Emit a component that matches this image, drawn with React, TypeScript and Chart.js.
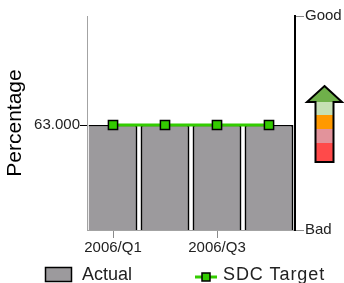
import React, { useEffect, useRef } from 'react';
import { Chart, registerables } from 'chart.js';

Chart.register(...registerables);

const categories = ['2006/Q1', '2006/Q2', '2006/Q3', '2006/Q4'];
const actualValues = [63, 63, 63, 63];
const targetValues = [63, 63, 63, 63];
const yTickValues = [63];
const statusTickValues = [0, 1];
const statusLabels = ['Bad', 'Good'];
const shownCategoryIndexes = [0, 2];

const FONT = '"Liberation Sans", Arial, sans-serif';
const BAR_GRAY = '#9c9a9d';
const TARGET_GREEN = '#33cc00';

const arrowPlugin = {
  id: 'statusArrow',
  afterDraw(chart: any) {
    const { ctx, chartArea } = chart;
    const cx = chartArea.right + 29.5;
    const top = chartArea.top + 70;
    const headBase = top + 16;
    const bottom = top + 76;
    const hw = 17.5;
    const sw = 9;
    ctx.save();
    ctx.beginPath();
    ctx.moveTo(cx, top);
    ctx.lineTo(cx + hw, headBase);
    ctx.lineTo(cx + sw, headBase);
    ctx.lineTo(cx + sw, bottom);
    ctx.lineTo(cx - sw, bottom);
    ctx.lineTo(cx - sw, headBase);
    ctx.lineTo(cx - hw, headBase);
    ctx.closePath();
    ctx.save();
    ctx.clip();
    const bands: [string, number, number][] = [
      ['#6fb04a', top, headBase],
      ['#c6e0b4', headBase, headBase + 13],
      ['#ff9900', headBase + 13, headBase + 27],
      ['#e2939b', headBase + 27, headBase + 41],
      ['#ff4a4a', headBase + 41, bottom],
    ];
    for (const [c, y0, y1] of bands) {
      ctx.fillStyle = c;
      ctx.fillRect(cx - hw - 1, y0, hw * 2 + 2, y1 - y0);
    }
    ctx.restore();
    ctx.lineWidth = 2;
    ctx.strokeStyle = '#000';
    ctx.lineJoin = 'miter';
    ctx.stroke();
    ctx.restore();
  },
};

const legendPlugin = {
  id: 'customLegend',
  afterDraw(chart: any) {
    const { ctx } = chart;
    const ds = chart.data.datasets;
    ctx.save();
    ctx.font = `18px ${FONT}`;
    ctx.textBaseline = 'middle';
    ctx.textAlign = 'left';
    // Actual
    ctx.fillStyle = ds[0].backgroundColor;
    ctx.fillRect(45.5, 267.5, 26, 14);
    ctx.lineWidth = 1.5;
    ctx.strokeStyle = '#000';
    ctx.strokeRect(45.5, 267.5, 26, 14);
    ctx.fillStyle = '#222';
    ctx.fillText(ds[0].label, 82, 275);
    // SDC Target
    ctx.strokeStyle = ds[1].borderColor;
    ctx.lineWidth = 3;
    ctx.beginPath();
    ctx.moveTo(195, 277);
    ctx.lineTo(217, 277);
    ctx.stroke();
    ctx.fillStyle = ds[1].pointBackgroundColor;
    ctx.fillRect(202, 273, 8, 8);
    ctx.lineWidth = 1.5;
    ctx.strokeStyle = '#000';
    ctx.strokeRect(202, 273, 8, 8);
    ctx.fillStyle = '#222';
    try {
      (ctx as any).letterSpacing = '0.9px';
    } catch (e) {
      /* ignore */
    }
    ctx.fillText(ds[1].label, 223, 275);
    ctx.restore();
  },
};

export default function App() {
  const canvasRef = useRef<HTMLCanvasElement | null>(null);

  useEffect(() => {
    if (!canvasRef.current) return;
    Chart.defaults.font.family = FONT;
    const chart = new Chart(canvasRef.current, {
      type: 'bar',
      data: {
        labels: categories,
        datasets: [
          {
            type: 'bar',
            label: 'Actual',
            data: actualValues,
            backgroundColor: BAR_GRAY,
            borderColor: '#000',
            borderWidth: (c: any) => ({
              top: 1.5,
              left: c.dataIndex === 0 ? 0 : 2,
              right: 2,
              bottom: 0,
            }),
            borderSkipped: 'start',
            barPercentage: 0.94,
            categoryPercentage: 1,
            order: 2,
            yAxisID: 'y',
          } as any,
          {
            type: 'line',
            label: 'SDC Target',
            data: targetValues,
            borderColor: TARGET_GREEN,
            borderWidth: 3,
            pointStyle: 'rect',
            pointRadius: 6.5,
            pointBackgroundColor: TARGET_GREEN,
            pointBorderColor: '#000',
            pointBorderWidth: 1.5,
            fill: false,
            order: 1,
            yAxisID: 'y',
          } as any,
        ],
      },
      options: {
        animation: false,
        responsive: true,
        maintainAspectRatio: false,
        layout: { padding: { top: 16, left: 0, right: 0, bottom: 0 } },
        plugins: {
          legend: { display: false },
          tooltip: { enabled: false },
        },
        scales: {
          x: {
            type: 'category',
            offset: true,
            grid: {
              offset: false,
              drawOnChartArea: false,
              tickLength: 8,
              tickColor: (c: any) =>
                shownCategoryIndexes.includes(c.index) ? '#8a8a8a' : 'rgba(0,0,0,0)',
            },
            border: { color: '#a3a3a3', width: 1 },
            ticks: {
              autoSkip: false,
              maxRotation: 0,
              padding: 1,
              color: '#222',
              font: { size: 15 },
              callback: (_v: any, i: number) =>
                shownCategoryIndexes.includes(i) ? categories[i] : '',
            },
            afterFit: (s: any) => {
              s.height = 53;
            },
          },
          y: {
            position: 'left',
            min: 0,
            max: 128.4,
            afterBuildTicks: (s: any) => {
              s.ticks = yTickValues.map((v) => ({ value: v }));
            },
            grid: {
              drawOnChartArea: false,
              tickLength: 7,
              tickColor: '#000',
            },
            border: { color: '#a3a3a3', width: 1 },
            ticks: {
              padding: 0,
              color: '#222',
              font: { size: 15 },
              callback: (v: any) => Number(v).toFixed(3),
            },
            title: {
              display: true,
              text: 'Percentage',
              color: '#000',
              font: { size: 21 },
              padding: { top: 3, bottom: 0 },
            },
            afterFit: (s: any) => {
              s.width = 87;
            },
          },
          y2: {
            position: 'right',
            min: 0,
            max: 1,
            afterBuildTicks: (s: any) => {
              s.ticks = statusTickValues.map((v) => ({ value: v }));
            },
            grid: {
              drawOnChartArea: false,
              tickLength: 9,
              tickColor: '#8a8a8a',
            },
            border: { color: '#000', width: 2 },
            ticks: {
              padding: 1,
              color: '#222',
              font: { size: 15 },
              callback: (v: any) => statusLabels[statusTickValues.indexOf(Number(v))],
            },
            afterFit: (s: any) => {
              s.width = 49;
            },
          },
        },
      } as any,
      plugins: [arrowPlugin, legendPlugin],
    });
    return () => chart.destroy();
  }, []);

  return (
    <div style={{ position: 'fixed', left: 0, top: 0, width: 344, height: 283, background: '#fff' }}>
      <canvas ref={canvasRef} />
    </div>
  );
}
